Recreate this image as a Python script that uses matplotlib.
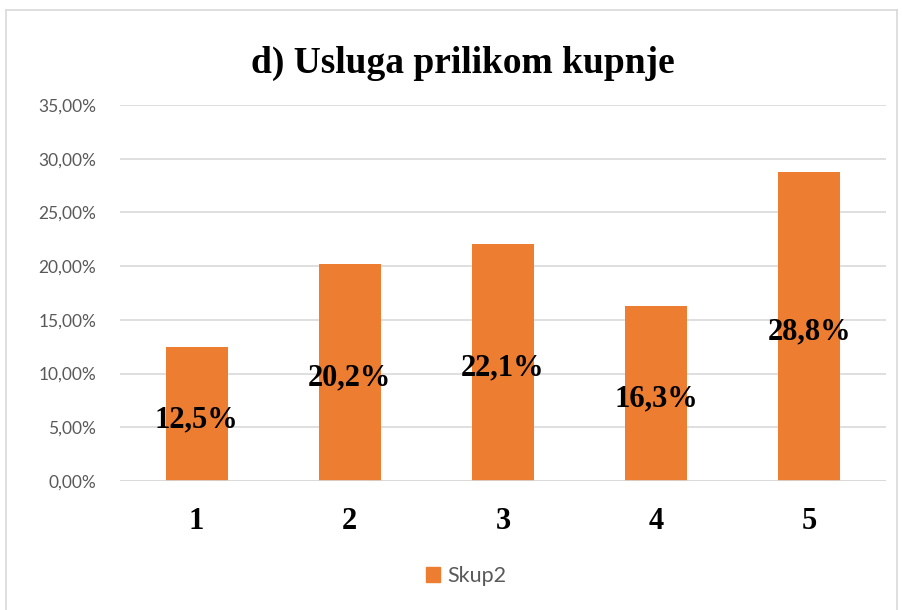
import matplotlib
matplotlib.use("Agg")
import matplotlib.pyplot as plt
from matplotlib.patches import Rectangle
from matplotlib.lines import Line2D

categories = ["1", "2", "3", "4", "5"]
values = [12.5, 20.2, 22.1, 16.3, 28.8]
value_labels = ["12,5%", "20,2%", "22,1%", "16,3%", "28,8%"]
yticks = [0, 5, 10, 15, 20, 25, 30, 35]
ytick_labels = ["0,00%", "5,00%", "10,00%", "15,00%", "20,00%", "25,00%", "30,00%", "35,00%"]
series_name = "Skup2"
title = "d) Usluga prilikom kupnje"

orange = "#ED7D31"
serif = ["Liberation Serif", "DejaVu Serif"]
sans = ["Lato", "DejaVu Sans"]

fig = plt.figure(figsize=(9.03, 6.10), dpi=100)
ax = fig.add_axes([120/903, 1-481/610, (886-120)/903, (481-105)/610])

x = list(range(len(categories)))
ax.bar(x, values, width=0.405, color=orange, zorder=3)
ax.set_xlim(-0.5, len(categories)-0.5)
ax.set_ylim(0, 35)
ax.set_yticks(yticks)
ax.set_yticklabels(ytick_labels, family=sans, fontsize=12.5, color="#595959")
ax.set_xticks(x)
ax.set_xticklabels(categories, family=serif, fontsize=22, fontweight="bold", color="black")
ax.tick_params(axis="y", length=0, pad=17)
ax.tick_params(axis="x", length=0, pad=19)
ax.grid(axis="y", color="#d9d9d9", linewidth=1.2, zorder=0)
for s in ax.spines.values():
    s.set_visible(False)
ax.axhline(0, color="#d9d9d9", linewidth=1.2, zorder=4)

for xi, v, lab in zip(x, values, value_labels):
    ax.annotate(lab, xy=(xi, v/2), xytext=(0, -4), textcoords="offset points",
                ha="center", va="center", family=serif,
                fontsize=22, fontweight="bold", color="black", zorder=5)

fig.text(463/903, 1-73/610, title, ha="center", va="baseline", family=serif,
         fontsize=27, fontweight="bold", color="black")

# legend
handle = Rectangle((0, 0), 1, 1, color=orange)
leg = fig.legend([handle], [series_name], loc="center", bbox_to_anchor=(466/903, 1-576/610),
                 frameon=False, prop={"family": sans, "size": 15.5}, handlelength=0.65,
                 handleheight=0.65, handletextpad=0.35)
for t in leg.get_texts():
    t.set_color("#595959")

# chart border
border = dict(color="#d9d9d9", linewidth=1.2, transform=fig.transFigure)
fig.add_artist(Line2D([6/903, 897/903], [1-10/610, 1-10/610], **border))
fig.add_artist(Line2D([6/903, 6/903], [0, 1-10/610], **border))
fig.add_artist(Line2D([897/903, 897/903], [0, 1-10/610], **border))

fig.savefig("out.png", dpi=100)
